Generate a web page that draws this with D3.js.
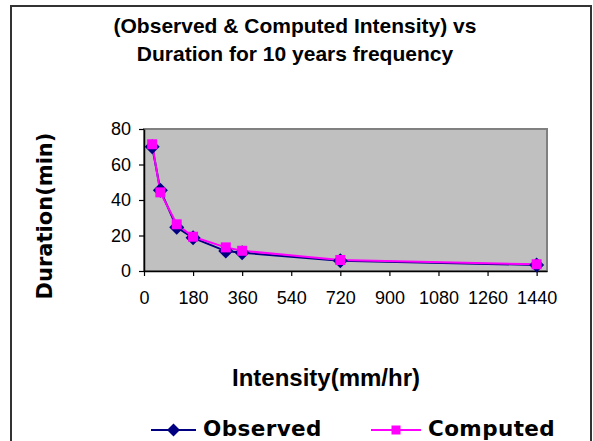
<!DOCTYPE html>
<html>
<head>
<meta charset="utf-8">
<script src="https://cdn.jsdelivr.net/npm/d3@7/dist/d3.min.js"></script>
<style>
  html, body { margin: 0; padding: 0; background: #fff; }
  svg { display: block; }
</style>
</head>
<body>
<svg id="chart" width="593" height="441"></svg>
<script>
// Duration (min) used as the x positions
const xValues = [30, 60, 120, 180, 300, 360, 720, 1440];
// Observed and computed intensity values
const observed = [70, 45.5, 24.6, 18.7, 11.2, 10.3, 5.8, 3.4];
const computed = [71.4, 44.3, 26.3, 19.3, 13.3, 11.4, 6.2, 3.8];
// Axis ticks
const xTicks = [0, 180, 360, 540, 720, 900, 1080, 1260, 1440];
const yTicks = [0, 20, 40, 60, 80];

const titleLines = ["(Observed & Computed Intensity) vs", "Duration for 10 years frequency"];
const xLabel = "Intensity(mm/hr)";
const yLabel = "Duration(min)";

const svg = d3.select("#chart");
const font = "'Liberation Sans', Arial, sans-serif";
const wideFont = "'DejaVu Sans', Verdana, sans-serif";

// outer chart frame
svg.append("rect")
  .attr("x", 11).attr("y", 6)
  .attr("width", 580).attr("height", 450)
  .attr("fill", "#fff").attr("stroke", "#333").attr("stroke-width", 2);

const plot = { left: 144, right: 547, top: 129, bottom: 271 };

const x = d3.scaleLinear().domain([0, 1478]).range([plot.left, plot.right]);
const y = d3.scaleLinear().domain([0, 80]).range([plot.bottom, plot.top]);

// plot area
svg.append("rect")
  .attr("x", plot.left).attr("y", plot.top)
  .attr("width", plot.right - plot.left).attr("height", plot.bottom - plot.top)
  .attr("fill", "#c0c0c0").attr("stroke", "#808080").attr("stroke-width", 2);

// axes
const fmt = d3.format("d");
const xAxis = d3.axisBottom(x).tickValues(xTicks).tickFormat(fmt).tickSize(5).tickSizeOuter(0).tickPadding(15);
const yAxis = d3.axisLeft(y).tickValues(yTicks).tickFormat(fmt).tickSize(5).tickSizeOuter(0).tickPadding(8);

const gx = svg.append("g").attr("transform", `translate(0,${plot.bottom})`).call(xAxis);
const gy = svg.append("g").attr("transform", `translate(${plot.left},0)`).call(yAxis);
[gx, gy].forEach(g => {
  g.select(".domain").attr("stroke", "#000").attr("stroke-width", 1.5);
  g.selectAll(".tick line").attr("stroke", "#000").attr("stroke-width", 1.2);
  g.selectAll(".tick text").attr("font-family", font).attr("font-size", 18).attr("fill", "#000");
});

// series lines
const line = vals => d3.line().x((d, i) => x(xValues[i])).y(d => y(d))(vals);

svg.append("path").attr("d", line(observed))
  .attr("fill", "none").attr("stroke", "#000080").attr("stroke-width", 2);
svg.append("path").attr("d", line(computed))
  .attr("fill", "none").attr("stroke", "#ff00ff").attr("stroke-width", 2);

// diamond shape with equal width and height
const diamondPath = r => `M0,${-r}L${r},0L0,${r}L${-r},0Z`;

// observed diamonds
svg.append("g").selectAll("path").data(observed).join("path")
  .attr("d", diamondPath(7.5))
  .attr("transform", (d, i) => `translate(${x(xValues[i])},${y(d)})`)
  .attr("fill", "#000080");

// computed squares
const sq = 10;
svg.append("g").selectAll("rect").data(computed).join("rect")
  .attr("x", (d, i) => x(xValues[i]) - sq / 2)
  .attr("y", d => y(d) - sq / 2)
  .attr("width", sq).attr("height", sq)
  .attr("fill", "#ff00ff");

// title
svg.append("g").selectAll("text").data(titleLines).join("text")
  .attr("x", 295).attr("y", (d, i) => 33 + i * 28)
  .attr("text-anchor", "middle")
  .attr("font-family", font).attr("font-size", 21).attr("font-weight", "bold")
  .text(d => d);

// axis titles
svg.append("text")
  .attr("x", 326).attr("y", 386)
  .attr("text-anchor", "middle")
  .attr("font-family", font).attr("font-size", 24).attr("font-weight", "bold")
  .text(xLabel);

svg.append("text")
  .attr("transform", "translate(52,216) rotate(-90)")
  .attr("text-anchor", "middle")
  .attr("font-family", wideFont).attr("font-size", 21).attr("font-weight", "bold")
  .text(yLabel);

// legend
const legend = [
  { name: "Observed", color: "#000080", kind: "diamond", x0: 151, x1: 196, tx: 203 },
  { name: "Computed", color: "#ff00ff", kind: "square", x0: 371, x1: 421, tx: 428 }
];
const ly = 430;
legend.forEach(it => {
  svg.append("line").attr("x1", it.x0).attr("x2", it.x1).attr("y1", ly).attr("y2", ly)
    .attr("stroke", it.color).attr("stroke-width", 2);
  const cx = (it.x0 + it.x1) / 2;
  if (it.kind === "diamond") {
    svg.append("path").attr("d", diamondPath(6.5))
      .attr("transform", `translate(${cx},${ly})`).attr("fill", it.color);
  } else {
    svg.append("rect").attr("x", cx - 4.5).attr("y", ly - 4.5).attr("width", 9).attr("height", 9)
      .attr("fill", it.color);
  }
  svg.append("text").attr("x", it.tx).attr("y", 435.5)
    .attr("font-family", wideFont).attr("font-size", 21.5).attr("font-weight", "bold")
    .attr("letter-spacing", 0.4)
    .text(it.name);
});
</script>
</body>
</html>
